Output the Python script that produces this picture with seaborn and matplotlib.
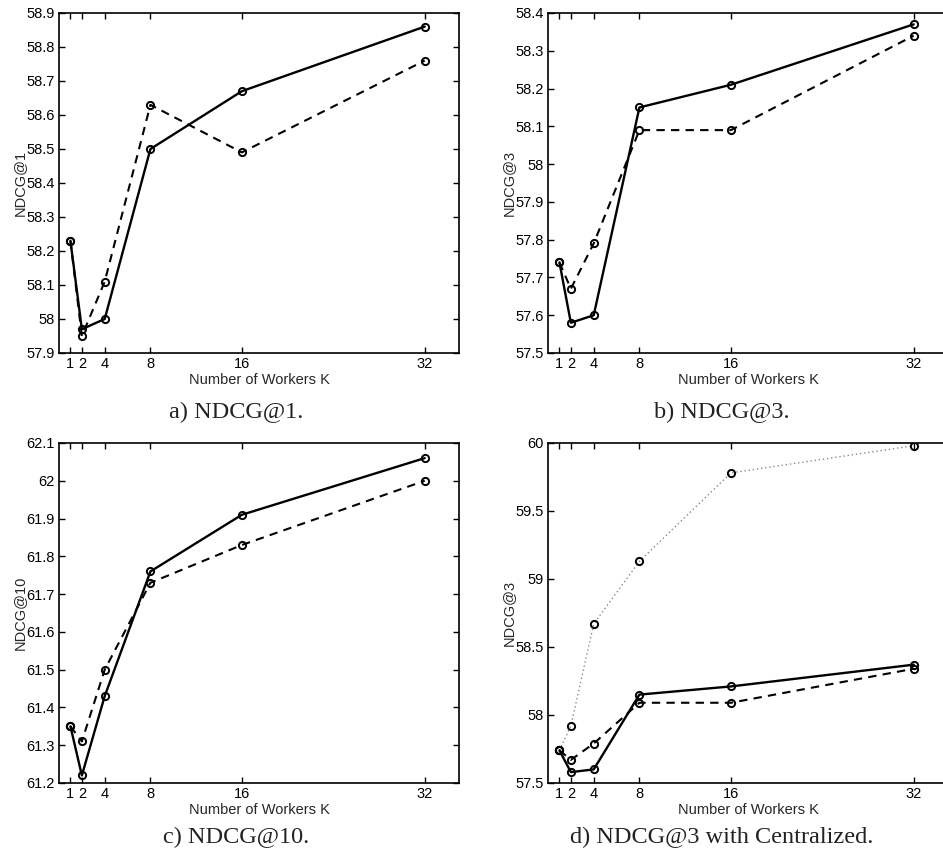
import matplotlib
matplotlib.use("Agg")
import matplotlib.pyplot as plt
import seaborn as sns
import pandas as pd
from matplotlib.ticker import FuncFormatter

# ---- data ----
workers = [1, 2, 4, 8, 16, 32]

ndcg1_solid = [58.23, 57.97, 58.00, 58.50, 58.67, 58.86]
ndcg1_dashed = [58.23, 57.95, 58.11, 58.63, 58.49, 58.76]

ndcg3_solid = [57.74, 57.58, 57.60, 58.15, 58.21, 58.37]
ndcg3_dashed = [57.74, 57.67, 57.79, 58.09, 58.09, 58.34]

ndcg10_solid = [61.35, 61.22, 61.43, 61.76, 61.91, 62.06]
ndcg10_dashed = [61.35, 61.31, 61.50, 61.73, 61.83, 62.00]

centralized = [57.74, 57.92, 58.67, 59.13, 59.78, 59.98]

yticks_a = [57.9, 58.0, 58.1, 58.2, 58.3, 58.4, 58.5, 58.6, 58.7, 58.8, 58.9]
yticks_b = [57.5, 57.6, 57.7, 57.8, 57.9, 58.0, 58.1, 58.2, 58.3, 58.4]
yticks_c = [61.2, 61.3, 61.4, 61.5, 61.6, 61.7, 61.8, 61.9, 62.0, 62.1]
yticks_d = [57.5, 58.0, 58.5, 59.0, 59.5, 60.0]

captions = ["a) NDCG@1.", "b) NDCG@3.", "c) NDCG@10.", "d) NDCG@3 with Centralized."]
ylabels = ["NDCG@1", "NDCG@3", "NDCG@10", "NDCG@3"]
xlabel = "Number of Workers K"

sns.set_style("ticks")
plt.rcParams["font.family"] = ["Liberation Sans", "DejaVu Sans"]

W, H = 943, 861
fig = plt.figure(figsize=(W / 100, H / 100), dpi=100)

def fx(px):
    return px / W

def fy(px):
    return 1 - px / H

ax_w = 400 / W
ax_h = 340 / H
positions = [
    (fx(59), fy(353), ax_w, ax_h),
    (fx(548), fy(353), ax_w, ax_h),
    (fx(59), fy(783), ax_w, ax_h),
    (fx(548), fy(783), ax_w, ax_h),
]
caption_pos = [(236, 412), (722, 412), (236, 837), (722, 837)]

panels = [
    (ndcg1_solid, ndcg1_dashed, None, yticks_a),
    (ndcg3_solid, ndcg3_dashed, None, yticks_b),
    (ndcg10_solid, ndcg10_dashed, None, yticks_c),
    (ndcg3_solid, ndcg3_dashed, centralized, yticks_d),
]

fmt = FuncFormatter(lambda v, p: ("%.1f" % v).rstrip("0").rstrip("."))

for i, (solid, dashed, central, yt) in enumerate(panels):
    ax = fig.add_axes(positions[i])
    mk = dict(marker="o", markersize=5.2, markerfacecolor="none",
              markeredgecolor="black", markeredgewidth=1.4)
    if central is not None:
        sns.lineplot(x=workers, y=central, ax=ax, color="#888888",
                     linestyle=(0, (1, 2)), linewidth=1.0, **mk)
    sns.lineplot(x=workers, y=dashed, ax=ax, color="black",
                 linestyle=(0, (4, 3)), linewidth=1.5, **mk)
    sns.lineplot(x=workers, y=solid, ax=ax, color="black",
                 linestyle="-", linewidth=1.7, **mk)
    ax.set_xlim(0, 35)
    ax.set_ylim(yt[0], yt[-1])
    ax.set_xticks(workers)
    ax.set_xticklabels([str(w) for w in workers])
    ax.set_yticks(yt)
    ax.yaxis.set_major_formatter(fmt)
    right_col = (i % 2 == 1)
    ax.tick_params(direction="in", top=True, right=not right_col, length=4,
                   width=1.0, labelsize=10.5, pad=3, colors="black")
    for s in ax.spines.values():
        s.set_visible(True)
        s.set_linewidth(1.2)
        s.set_color("black")
    ax.set_xlabel(xlabel, fontsize=10.5, labelpad=1)
    ax.set_ylabel(ylabels[i], fontsize=10.5, labelpad=0)
    cx, cy = caption_pos[i]
    fig.text(fx(cx), fy(cy), captions[i], ha="center", va="center",
             fontsize=17.5, family=["Liberation Serif", "DejaVu Serif"],
             color="#222222")

fig.savefig("out.png", dpi=100)
